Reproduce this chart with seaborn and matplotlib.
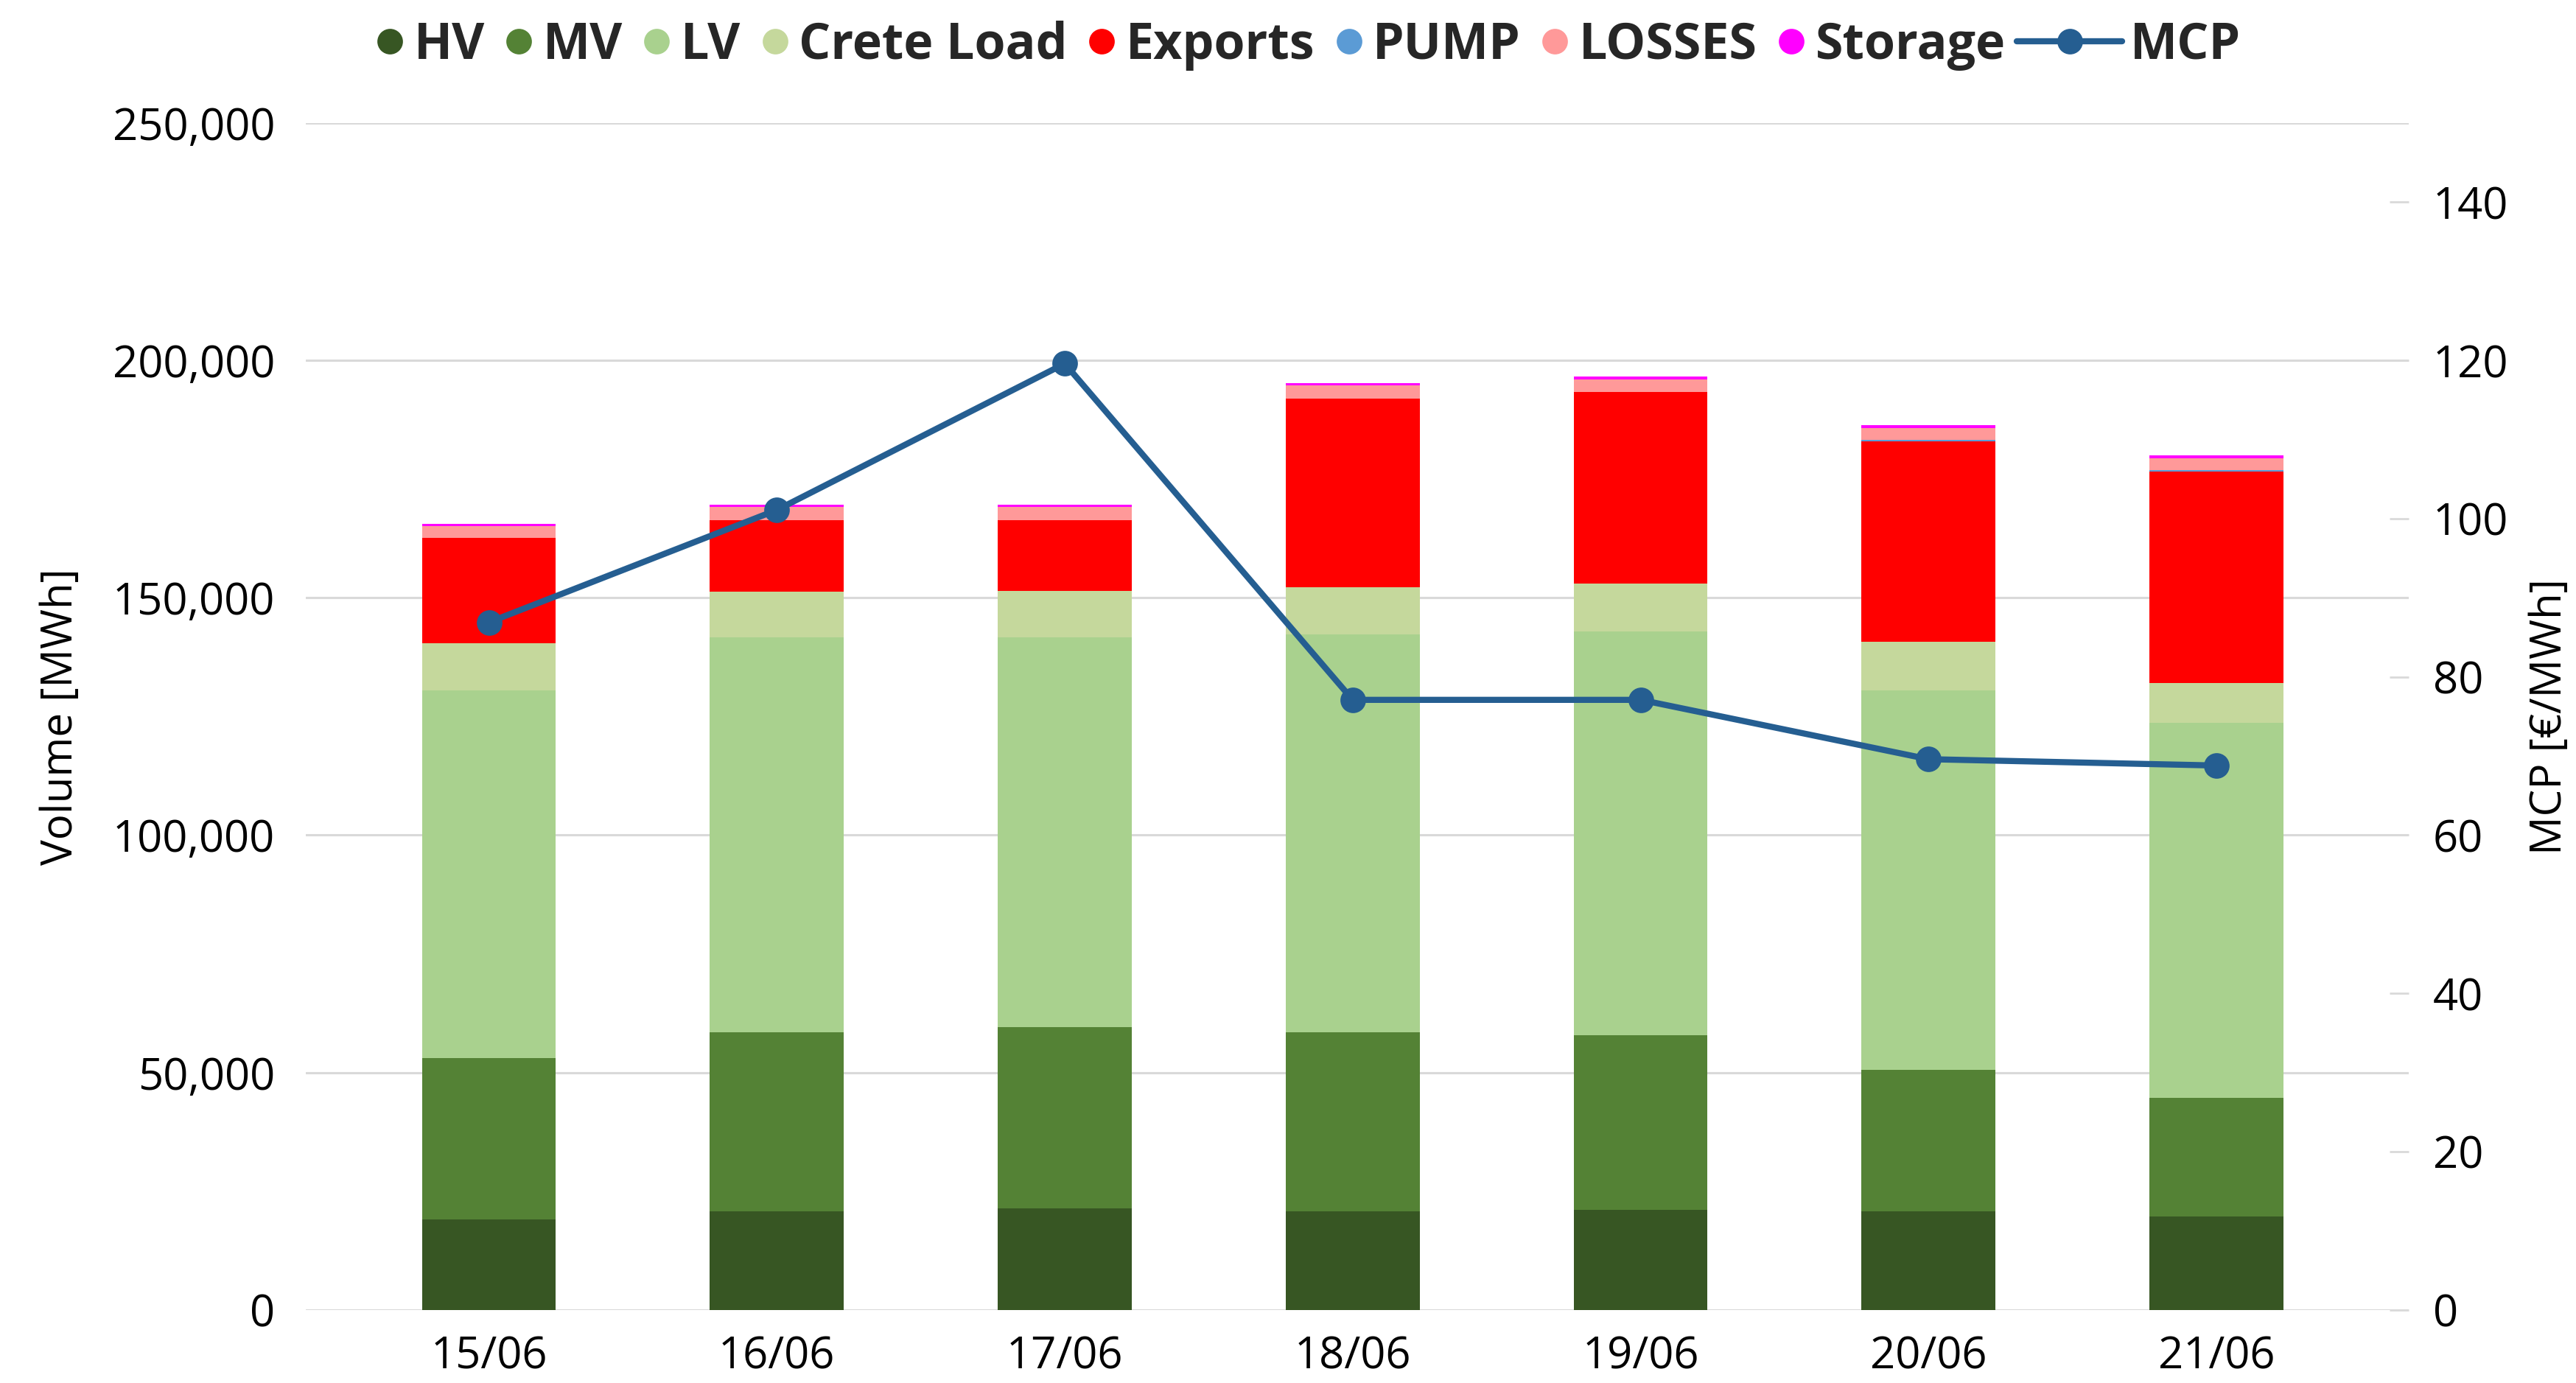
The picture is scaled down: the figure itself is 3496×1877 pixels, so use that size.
import numpy as np
import pandas as pd
import matplotlib
matplotlib.use("Agg")
import matplotlib.pyplot as plt
from matplotlib.lines import Line2D
from matplotlib.ticker import FuncFormatter, MultipleLocator
import seaborn as sns

# ---------------- data ----------------
dates = ["15/06", "16/06", "17/06", "18/06", "19/06", "20/06", "21/06"]
hv = [19000, 20800, 21450, 20800, 21100, 20800, 19700]
mv = [34000, 37700, 38100, 37700, 36700, 29750, 25000]
lv = [77500, 83200, 82150, 83820, 85140, 79990, 78900]
crete = [9850, 9620, 9770, 9930, 10090, 10220, 8390]
exports = [22200, 15060, 14910, 39750, 40360, 42240, 44640]
pump = [0, 0, 0, 0, 0, 310, 310]
losses = [2480, 2690, 2690, 2680, 2640, 2480, 2480]
storage = [570, 570, 570, 580, 620, 620, 620]
mcp = [86.9, 101.1, 119.6, 77.1, 77.1, 69.6, 68.8]

series_names = ["HV", "MV", "LV", "Crete Load", "Exports", "PUMP", "LOSSES", "Storage"]
series_vals = [hv, mv, lv, crete, exports, pump, losses, storage]
colors = ["#375623", "#548235", "#A9D18E", "#C5D89C", "#FF0000", "#5B9BD5", "#FF9999", "#FF00FF"]
line_color = "#255E91"

# ---------------- style ----------------
sns.set_theme(style="white")
plt.rcParams["font.family"] = ["Open Sans", "DejaVu Sans"]
TFS = 21.5
LFS = 21
LEGFS = 24.5

fig = plt.figure(figsize=(17.48, 9.385), dpi=200)
ax = fig.add_axes([0.1187, 0.0529, 0.935 - 0.1187, 0.911 - 0.0529])

# stacked bars: draw cumulative totals from top down
cum = np.cumsum(np.array(series_vals, dtype=float), axis=0)
for i in range(len(series_names) - 1, -1, -1):
    df = pd.DataFrame({"date": dates, "val": cum[i]})
    sns.barplot(data=df, x="date", y="val", color=colors[i], saturation=1,
                width=0.465, ax=ax, linewidth=0, edgecolor="none", zorder=2)

ax.set_ylim(0, 250000)
ax.yaxis.set_major_locator(MultipleLocator(50000))
ax.yaxis.set_major_formatter(FuncFormatter(lambda v, p: f"{int(v):,}"))
ax.grid(axis="y", color="#D9D9D9", linewidth=1.1, zorder=0)
ax.grid(axis="x", visible=False)
ax.set_axisbelow(True)
for s in ax.spines.values():
    s.set_visible(False)
ax.tick_params(axis="y", length=0, pad=15, labelsize=TFS, colors="black")
ax.tick_params(axis="x", length=0, pad=12, labelsize=TFS, colors="black")
ax.set_xlabel("")
ax.set_ylabel("Volume [MWh]", fontsize=LFS, color="black")
ax.yaxis.set_label_coords(-0.106, 0.5)

# MCP line on secondary axis
ax2 = ax.twinx()
mdf = pd.DataFrame({"date": dates, "mcp": mcp})
sns.lineplot(data=mdf, x="date", y="mcp", ax=ax2, color=line_color, linewidth=3.0,
             marker="o", markersize=12.5, markeredgewidth=0, sort=False, zorder=5)
ax2.set_ylim(0, 150)
ax2.set_yticks(np.arange(0, 141, 20))
ax2.grid(False)
for s in ax2.spines.values():
    s.set_visible(False)
ax2.tick_params(axis="y", direction="in", length=9.5, width=1.0, color="#D9D9D9",
                pad=12, labelsize=TFS, labelcolor="black")
ax2.set_ylabel("MCP [€/MWh]", fontsize=LFS, color="black")
ax2.yaxis.set_label_coords(1.057, 0.5)
ax2.set_xlabel("")
if ax2.get_legend():
    ax2.get_legend().remove()

ax.set_xlim(-0.636, 6.667)
ax2.set_xlim(-0.636, 6.667)

# legends
bar_handles = [Line2D([0], [0], marker="o", linestyle="none", markersize=12.5,
                      markerfacecolor=c, markeredgewidth=0) for c in colors]
leg1 = fig.legend(bar_handles, series_names, loc="center left",
                  bbox_to_anchor=(0.1454, 0.967), ncol=8, frameon=False,
                  prop={"weight": "bold", "size": LEGFS}, handlelength=0.6,
                  handletextpad=0.18, columnspacing=0.38, borderpad=0, borderaxespad=0)
mcp_handle = Line2D([0], [0], color=line_color, linewidth=3.0, marker="o",
                    markersize=12.5, markeredgewidth=0)
leg2 = fig.legend([mcp_handle], ["MCP"], loc="center left",
                  bbox_to_anchor=(0.783, 0.967), frameon=False,
                  prop={"weight": "bold", "size": LEGFS}, handlelength=2.1,
                  handletextpad=0.16, borderpad=0, borderaxespad=0)

fig.savefig("out.png", dpi=200, facecolor="white")
